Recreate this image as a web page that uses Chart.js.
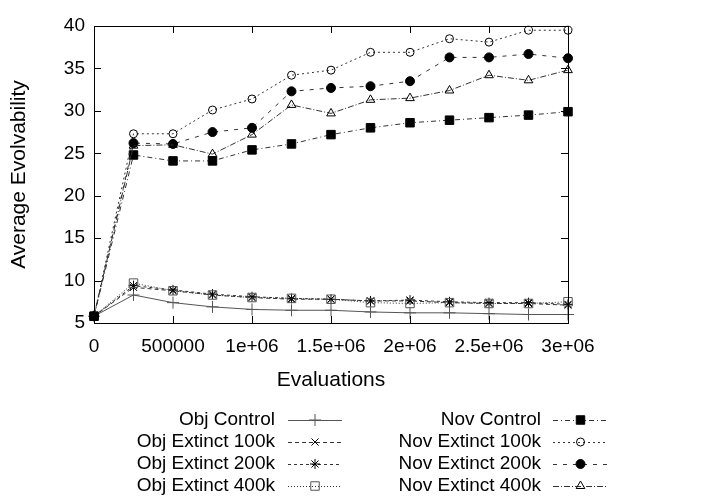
<!DOCTYPE html>
<html lang="en">
<head>
    <meta charset="UTF-8">
    <title>Average Evolvability</title>
    <script src="https://cdn.jsdelivr.net/npm/chart.js"></script>
    <style>
        body { margin: 0; background: white; }
        canvas { display: block; }
    </style>
</head>
<body>
    <canvas id="evoChart" width="720" height="504"></canvas>
    <script>
        // Data
        const evaluations = [0, 250000, 500000, 750000, 1000000, 1250000, 1500000, 1750000, 2000000, 2250000, 2500000, 2750000, 3000000];
        const objControl    = [5.8, 8.3, 7.4, 6.9, 6.6, 6.5, 6.5, 6.3, 6.2, 6.2, 6.1, 6.0, 6.0];
        const objExtinct100 = [5.8, 9.2, 8.8, 8.3, 8.0, 7.8, 7.8, 7.6, 7.6, 7.4, 7.3, 7.3, 7.1];
        const objExtinct200 = [5.8, 9.4, 8.9, 8.4, 8.1, 7.9, 7.8, 7.6, 7.7, 7.5, 7.4, 7.4, 7.2];
        const objExtinct400 = [5.8, 9.7, 8.8, 8.3, 8.0, 7.9, 7.8, 7.4, 7.3, 7.4, 7.3, 7.3, 7.5];
        const novControl    = [5.8, 24.8, 24.1, 24.1, 25.4, 26.1, 27.2, 28.0, 28.6, 28.9, 29.2, 29.5, 29.9];
        const novExtinct100 = [5.8, 27.3, 27.3, 30.1, 31.4, 34.2, 34.8, 36.9, 36.9, 38.5, 38.1, 39.5, 39.5];
        const novExtinct200 = [5.8, 26.2, 26.1, 27.5, 28.0, 32.3, 32.7, 32.9, 33.5, 36.3, 36.3, 36.7, 36.2];
        const novExtinct400 = [5.8, 25.9, 26.0, 24.9, 27.2, 30.7, 29.7, 31.3, 31.5, 32.4, 34.2, 33.6, 34.8];

        const seriesLabels = ["Obj Control", "Obj Extinct 100k", "Obj Extinct 200k", "Obj Extinct 400k",
                              "Nov Control", "Nov Extinct 100k", "Nov Extinct 200k", "Nov Extinct 400k"];
        const xTickLabels = ["0", "500000", "1e+06", "1.5e+06", "2e+06", "2.5e+06", "3e+06"];

        const FAMILY = "'Liberation Sans', Arial, sans-serif";
        const FONT = { family: FAMILY, size: 19 };
        const TITLE_FONT = { family: FAMILY, size: 21 };
        const NONE = "rgba(0,0,0,0)";

        function series(label, values, style) {
            return Object.assign({
                label: label,
                data: values.map((v, i) => ({ x: evaluations[i], y: v })),
                borderColor: "#333",
                borderWidth: 1,
                pointBorderColor: "#000",
                pointBorderWidth: 1,
                pointBackgroundColor: NONE,
                pointRadius: 5,
                tension: 0,
                fill: false,
                clip: false
            }, style);
        }

        const datasets = [
            series(seriesLabels[0], objControl,    { pointStyle: "cross", pointRadius: 6, pointBorderColor: "#555", borderColor: "#555" }),
            series(seriesLabels[1], objExtinct100, { pointStyle: "crossRot", borderDash: [4, 3] }),
            series(seriesLabels[2], objExtinct200, { pointStyle: "star", borderDash: [3, 3] }),
            series(seriesLabels[3], objExtinct400, { pointStyle: "rect", pointRadius: 6, borderDash: [1, 2], pointBorderColor: "#555" }),
            series(seriesLabels[4], novControl,    { pointStyle: "rect", pointRadius: 6, pointBackgroundColor: "#000", borderDash: [5, 3, 1, 3] }),
            series(seriesLabels[5], novExtinct100, { pointStyle: "circle", pointRadius: 4, borderDash: [2, 3] }),
            series(seriesLabels[6], novExtinct200, { pointStyle: "circle", pointRadius: 4.5, pointBackgroundColor: "#000", borderDash: [4, 6] }),
            series(seriesLabels[7], novExtinct400, { pointStyle: "triangle", pointRadius: 5, borderDash: [6, 2, 1, 2] })
        ];
        // later series sit on top, like the original plot
        datasets.forEach((d, i) => { d.order = datasets.length - i; });

        // box around the plot plus inward tick marks on all four sides
        const frame = {
            id: "frame",
            afterDatasetsDraw(chart) {
                const { ctx, chartArea: a, scales } = chart;
                const len = 7;
                ctx.save();
                ctx.strokeStyle = "#000";
                ctx.lineWidth = 1;
                ctx.beginPath();
                scales.x.ticks.forEach(t => {
                    const px = Math.round(scales.x.getPixelForValue(t.value)) + 0.5;
                    ctx.moveTo(px, a.bottom); ctx.lineTo(px, a.bottom - len);
                    ctx.moveTo(px, a.top); ctx.lineTo(px, a.top + len);
                });
                scales.y.ticks.forEach(t => {
                    const py = Math.round(scales.y.getPixelForValue(t.value)) + 0.5;
                    ctx.moveTo(a.left, py); ctx.lineTo(a.left + len, py);
                    ctx.moveTo(a.right, py); ctx.lineTo(a.right - len, py);
                });
                ctx.stroke();
                ctx.strokeRect(Math.round(a.left) + 0.5, Math.round(a.top) + 0.5,
                               Math.round(a.right - a.left), Math.round(a.bottom - a.top));
                ctx.restore();
            }
        };

        // gnuplot style key: two columns, right aligned text then a line sample
        const key = {
            id: "key",
            afterDraw(chart) {
                const ctx = chart.ctx;
                const textRight = [275, 541];
                const sampleX = [[288, 342], [553, 608]];
                const rowY = [420, 442, 464, 486];
                ctx.save();
                ctx.font = FONT.size + "px " + FONT.family;
                ctx.textAlign = "right";
                ctx.textBaseline = "middle";
                chart.data.datasets.forEach((d, i) => {
                    const col = Math.floor(i / 4), row = i % 4;
                    const y = rowY[row];
                    ctx.fillStyle = "#000";
                    ctx.fillText(d.label, textRight[col], y);
                    const [x1, x2] = sampleX[col];
                    ctx.strokeStyle = d.borderColor;
                    ctx.lineWidth = 1;
                    ctx.setLineDash(d.borderDash || []);
                    ctx.beginPath();
                    ctx.moveTo(x1, y + 0.5);
                    ctx.lineTo(x2, y + 0.5);
                    ctx.stroke();
                    ctx.setLineDash([]);
                    if (Chart.helpers && Chart.helpers.drawPoint) {
                        ctx.strokeStyle = d.pointBorderColor;
                        ctx.fillStyle = d.pointBackgroundColor;
                        ctx.lineWidth = 1;
                        Chart.helpers.drawPoint(ctx, {
                            pointStyle: d.pointStyle,
                            radius: d.pointRadius,
                            rotation: 0,
                            borderWidth: 1
                        }, (x1 + x2) / 2, y);
                    }
                });
                ctx.restore();
            }
        };

        new Chart(document.getElementById("evoChart"), {
            type: "line",
            data: { datasets: datasets },
            options: {
                responsive: false,
                animation: false,
                layout: { padding: { left: 0, top: 26, right: 152, bottom: 111 } },
                plugins: {
                    legend: { display: false },
                    tooltip: { enabled: false }
                },
                scales: {
                    x: {
                        type: "linear",
                        min: 0,
                        max: 3000000,
                        afterFit: s => { s.height = 70; },
                        ticks: {
                            stepSize: 500000,
                            color: "#000",
                            font: FONT,
                            padding: 12,
                            maxRotation: 0,
                            callback: (v, i) => xTickLabels[i]
                        },
                        grid: { display: false, drawTicks: false },
                        border: { display: false },
                        title: { display: true, text: "Evaluations", color: "#000", font: TITLE_FONT, padding: { top: 0, bottom: 0 } }
                    },
                    y: {
                        min: 5,
                        max: 40,
                        afterFit: s => { s.width = 94; },
                        ticks: { stepSize: 5, color: "#000", font: FONT, padding: 9 },
                        grid: { display: false, drawTicks: false },
                        border: { display: false },
                        title: { display: true, text: "Average Evolvability", color: "#000", font: TITLE_FONT, padding: { top: 7, bottom: 0 } }
                    }
                }
            },
            plugins: [frame, key]
        });
    </script>
</body>
</html>
